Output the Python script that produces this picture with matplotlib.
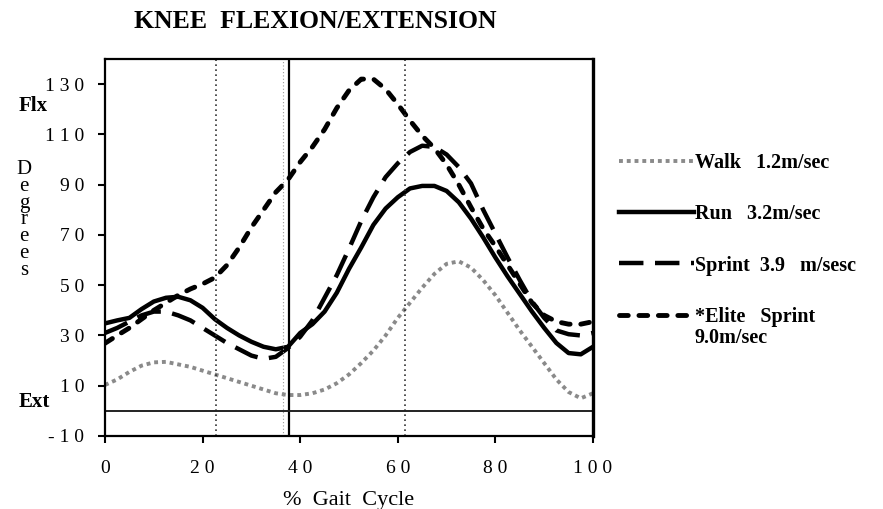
import matplotlib
matplotlib.use("Agg")
import matplotlib.pyplot as plt

plt.rcParams['font.family'] = ['Liberation Serif', 'DejaVu Serif']

# gait cycle positions (%)
pct = [0, 2.5, 5, 7.5, 10, 12.5, 15, 17.5, 20, 22.5, 25, 27.5, 30, 32.5, 35, 37.5,
       40, 42.5, 45, 47.5, 50, 52.5, 55, 57.5, 60, 62.5, 65, 67.5, 70, 72.5, 75,
       77.5, 80, 82.5, 85, 87.5, 90, 92.5, 95, 97.5, 100]

walk = [10.3, 12.5, 15.5, 18, 19.3, 19.5, 18.5, 17.5, 16, 14.5, 13, 11.5, 10, 8.5,
        7, 6.3, 6.3, 7, 8.5, 11, 14.5, 19, 24, 30, 37, 43, 49, 54.5, 58.5, 59.5,
        57, 52, 46, 39, 32, 25.5, 19, 12.5, 7.5, 5, 7]
run = [34.8, 36, 37, 40.5, 43.5, 45, 45.4, 44, 41, 36.5, 33, 30, 27.5, 25.5, 24.5,
       25.5, 31, 34.5, 39.5, 47, 56.5, 65, 74, 80.5, 85, 88.5, 89.5, 89.5, 87.5,
       83, 76.5, 69, 61, 53.5, 46.5, 39.5, 33, 27, 23, 22.5, 25.5]
sprint = [31, 33, 35.5, 38, 39.5, 39.5, 38, 36, 33, 30, 27, 24.5, 22, 20.7, 21.5,
          25, 29.5, 36, 45, 54, 64.5, 75.5, 85, 93, 98.5, 103, 105.5, 105, 102,
          97, 90.5, 80, 70.5, 61, 52, 43.5, 37, 32, 30.5, 30, 31]
elite = [26.9, 30, 33, 36.5, 40, 43, 46, 48.5, 50.5, 53, 58, 65, 73, 80, 87, 92,
         99, 105, 112, 120.5, 127.5, 132, 132, 128, 122, 115.5, 109.5, 104.5, 98,
         90, 81, 72.5, 65.5, 58, 50.5, 43, 38, 35.5, 34.5, 34.5, 35.5]

phase_lines = [22.7, 61.5]
toe_off_faint = 36.4
toe_off = 37.8

yticks = [-10, 10, 30, 50, 70, 90, 110, 130]
ytick_labels = ['- 1 0', '1 0', '3 0', '5 0', '7 0', '9 0', '1 1 0', '1 3 0']
xticks = [0, 20, 40, 60, 80, 100]
xtick_labels = ['0', '2 0', '4 0', '6 0', '8 0', '1 0 0']

fig = plt.figure(figsize=(8.83, 5.09), dpi=100)
ax = fig.add_axes([105 / 883, 1 - 436 / 509, 488 / 883, 377 / 509])

ax.plot(pct, walk, color='#8a8a8a', linestyle=(0, (1, 1)), lw=2.8,
        label='Walk   1.2m/sec')
ax.plot(pct, run, color='black', lw=3.2, label='Run   3.2m/sec')
ax.plot(pct, sprint, color='black', lw=3.2, dashes=(5.5, 2.6),
        label='Sprint  3.9   m/sesc')
ax.plot(pct, elite, color='black', lw=3.5, dashes=(1.8, 2.2),
        dash_capstyle='round', label='*Elite   Sprint')

for xv in phase_lines:
    ax.axvline(xv, color='#333333', lw=1.2, linestyle=(0, (1, 2)))
ax.axvline(toe_off_faint, color='#999999', lw=0.8, linestyle=(0, (1, 2)))
ax.axvline(toe_off, color='black', lw=1.6)
ax.axhline(0, color='#222222', lw=1.4)

ax.set_xlim(0, 100)
ax.set_ylim(-10, 140)
ax.set_xticks(xticks)
ax.set_xticklabels(xtick_labels, fontsize=14)
ax.set_yticks(yticks)
ax.set_yticklabels(ytick_labels, fontsize=14)
ax.tick_params(axis='y', direction='out', length=5, width=1.5, pad=10)
ax.tick_params(axis='x', direction='out', length=5, width=1.5, pad=12)
for side in ['left', 'bottom', 'top']:
    ax.spines[side].set_linewidth(1.6)
ax.spines['right'].set_linewidth(2.4)

ax.set_xlabel('%  Gait  Cycle', fontsize=16, labelpad=10)
fig.text(315 / 883, 1 - 22 / 509, 'KNEE  FLEXION/EXTENSION', fontsize=18.5,
         fontweight='bold', ha='center', va='center')
fig.text(19 / 883, 1 - 106 / 509, 'Flx', fontsize=15, fontweight='bold',
         ha='left', va='center')
fig.text(19 / 883, 1 - 402 / 509, 'Ext', fontsize=15, fontweight='bold',
         ha='left', va='center')
fig.text(24 / 883, 1 - 220 / 509, 'D\ne\ng\nr\ne\ne\ns', fontsize=15,
         ha='center', va='center', linespacing=0.84)

leg = ax.legend(loc='upper left', bbox_to_anchor=(609 / 883, 1 - 143 / 509),
                bbox_transform=fig.transFigure, frameon=False,
                handlelength=3.7, handletextpad=0.05, labelspacing=1.55,
                borderpad=0, prop={'weight': 'bold', 'size': 14.5})
ax.annotate('9.0m/sec', xy=(0, 0), xycoords=leg.get_texts()[3],
            xytext=(0, -1), textcoords='offset points', ha='left', va='top',
            fontsize=14.5, fontweight='bold', annotation_clip=False)

# lay out the legend once so the second text line can find its anchor
fig.canvas.draw()
fig.savefig('out.png', dpi=100)
